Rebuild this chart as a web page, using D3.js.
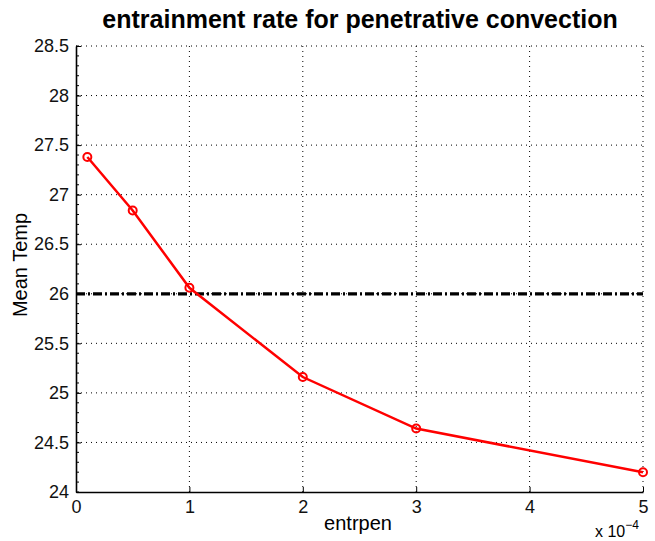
<!DOCTYPE html>
<html>
<head>
<meta charset="utf-8">
<script src="https://cdn.jsdelivr.net/npm/d3@7"></script>
<style>
  body { margin: 0; background: #fff; }
  text { font-family: "Liberation Sans", Arial, Helvetica, sans-serif; }
</style>
</head>
<body>
<svg id="chart"></svg>
<script>
// entrpen values (x 10^-4) and the mean temperature at each
const entrpen = [0.1, 0.5, 1, 2, 3, 5];
const meanTemp = [27.38, 26.84, 26.06, 25.16, 24.64, 24.2];
const refTemp = 26;
const xTicks = [0, 1, 2, 3, 4, 5];
const yTicks = [24, 24.5, 25, 25.5, 26, 26.5, 27, 27.5, 28, 28.5];

const width = 655, height = 541;
const margin = { top: 46, right: 12, bottom: 49, left: 76 };

const svg = d3.select("#chart")
  .attr("width", width)
  .attr("height", height);

const x = d3.scaleLinear().domain([0, 5]).range([margin.left, width - margin.right]);
const y = d3.scaleLinear().domain([24, 28.5]).range([height - margin.bottom, margin.top]);

// dotted grid, including the top and right edges
const grid = svg.append("g").attr("stroke", "#000").attr("stroke-width", 1)
  .attr("stroke-dasharray", "1,4");
grid.selectAll(".gx").data(xTicks.slice(1)).join("line")
  .attr("x1", d => x(d)).attr("x2", d => x(d))
  .attr("y1", y(24)).attr("y2", y(28.5));
grid.selectAll(".gy").data(yTicks.slice(1)).join("line")
  .attr("x1", x(0)).attr("x2", x(5))
  .attr("y1", d => y(d)).attr("y2", d => y(d));

// axes
const xAxis = svg.append("g")
  .attr("transform", `translate(0,${y(24)})`)
  .call(d3.axisBottom(x).tickValues(xTicks).tickFormat(d3.format("d")).tickSizeInner(-5).tickSizeOuter(0).tickPadding(7));
const yAxis = svg.append("g")
  .attr("transform", `translate(${x(0)},0)`)
  .call(d3.axisLeft(y).tickValues(yTicks).tickFormat(d => d).tickSizeInner(-5).tickSizeOuter(0).tickPadding(7));

// minor ticks on y
svg.append("g").selectAll("line")
  .data(d3.range(24, 28.5001, 0.1))
  .join("line")
  .attr("x1", x(0)).attr("x2", x(0) + 3)
  .attr("y1", d => y(d)).attr("y2", d => y(d))
  .attr("stroke", "#000").attr("stroke-width", 1);

[xAxis, yAxis].forEach(a => {
  a.select(".domain").attr("stroke-width", 1.6);
  a.selectAll("line").attr("stroke-width", 1);
  a.selectAll("text").attr("font-size", 18).attr("fill", "#111");
});
xAxis.selectAll("text").attr("dy", "0.8em");

// reference line
svg.append("line")
  .attr("x1", x(0)).attr("x2", x(5))
  .attr("y1", y(refTemp)).attr("y2", y(refTemp))
  .attr("stroke", "#000").attr("stroke-width", 3.2)
  .attr("stroke-dasharray", "9,3,2,3");

// data line with circle markers
const line = d3.line().x((d, i) => x(entrpen[i])).y(d => y(d));
svg.append("path")
  .datum(meanTemp)
  .attr("d", line)
  .attr("fill", "none")
  .attr("stroke", "#f00")
  .attr("stroke-width", 2.5);
svg.append("g").selectAll("circle")
  .data(meanTemp)
  .join("circle")
  .attr("cx", (d, i) => x(entrpen[i]))
  .attr("cy", d => y(d))
  .attr("r", 4)
  .attr("fill", "none")
  .attr("stroke", "#f00")
  .attr("stroke-width", 2);

// text
svg.append("text")
  .attr("x", 360).attr("y", 28)
  .attr("text-anchor", "middle")
  .attr("font-size", 25).attr("font-weight", "bold")
  .text("entrainment rate for penetrative convection");

svg.append("text")
  .attr("x", 358).attr("y", 530)
  .attr("text-anchor", "middle")
  .attr("font-size", 20)
  .text("entrpen");

svg.append("text")
  .attr("transform", `translate(27,265) rotate(-90)`)
  .attr("text-anchor", "middle")
  .attr("font-size", 20)
  .text("Mean Temp");

const exp = svg.append("text")
  .attr("x", 595).attr("y", 537)
  .attr("font-size", 16);
exp.append("tspan").text("x 10");
exp.append("tspan").attr("dy", -8).attr("font-size", 12).text("\u22124");
</script>
</body>
</html>
